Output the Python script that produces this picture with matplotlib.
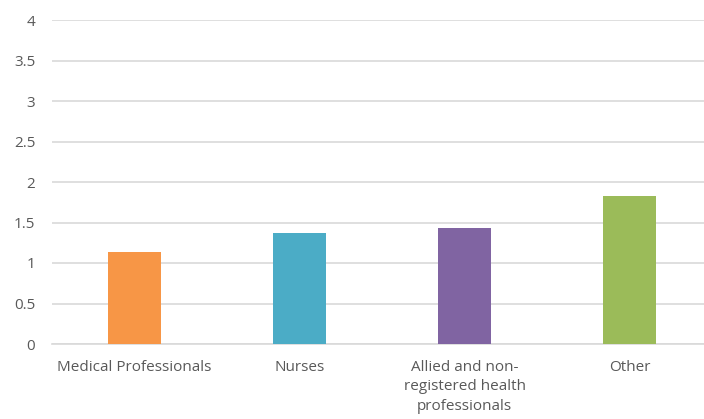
import matplotlib.pyplot as plt

# Chart data
categories = ['Medical Professionals', 'Nurses',
              'Allied and non-\nregistered health\nprofessionals', 'Other']
values = [1.13, 1.37, 1.43, 1.83]
colors = ['#F79646', '#4BACC6', '#8064A2', '#9BBB59']
y_ticks = [0, 0.5, 1, 1.5, 2, 2.5, 3, 3.5, 4]
y_labels = ['0', '0.5', '1', '1.5', '2', '2.5', '3', '3.5', '4']

plt.rcParams['font.family'] = ['Open Sans', 'DejaVu Sans']

fig = plt.figure(figsize=(7.04, 4.19), dpi=100)
# axes extends a bit past the right edge, as in the reference
ax = fig.add_axes([52 / 704, 1 - 344 / 419, 660 / 704, 324 / 419])

x = list(range(len(categories)))
ax.bar(x, values, width=0.32, color=colors, zorder=3)

ax.set_xlim(-0.5, 3.5)
ax.set_ylim(0, 4)
ax.set_yticks(y_ticks)
ax.set_yticklabels(y_labels)
ax.set_xticks(x)
ax.set_xticklabels(categories, linespacing=1.4, va='top')

ax.grid(axis='y', color='#D9D9D9', linewidth=1.2, zorder=0)
ax.tick_params(axis='y', length=0, pad=12, labelsize=11, labelcolor='#595959')
ax.tick_params(axis='x', length=0, pad=11.5, labelsize=11, labelcolor='#595959')
for side in ['top', 'right', 'left']:
    ax.spines[side].set_visible(False)
ax.spines['bottom'].set_color('#D9D9D9')
ax.spines['bottom'].set_linewidth(1.2)

plt.savefig('out.png', dpi=100)
